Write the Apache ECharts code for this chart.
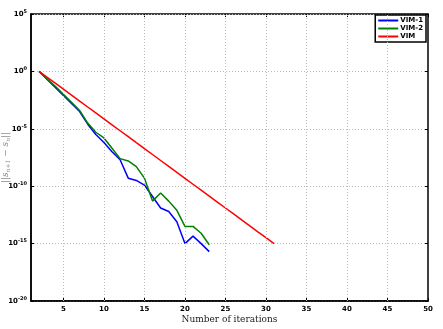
<!DOCTYPE html>
<html><head><meta charset="utf-8">
<script src="https://cdn.jsdelivr.net/npm/echarts@6/dist/echarts.min.js"></script>
<style>html,body{margin:0;padding:0;background:#fff}#c{width:443px;height:329px}</style>
</head><body><div id="c"></div>
<script>
// iteration numbers
const itersVIM1 = [2,3,4,5,6,7,8,9,10,11,12,13,14,15,16,17,18,19,20,21,22,23];
// log10 of ||s_{n+1}-s_n||
const logVIM1 = [0,-0.7,-1.4,-2.1,-2.8,-3.5,-4.6,-5.5,-6.2,-7.0,-7.7,-9.3,-9.5,-9.9,-10.9,-11.9,-12.2,-13.1,-15.0,-14.35,-15.0,-15.7];
const itersVIM2 = [2,3,4,5,6,7,8,9,10,11,12,13,14,15,16,17,18,19,20,21,22,23];
const logVIM2 = [0,-0.65,-1.3,-2.0,-2.7,-3.4,-4.5,-5.3,-5.8,-6.7,-7.6,-7.8,-8.3,-9.3,-11.3,-10.6,-11.3,-12.1,-13.5,-13.5,-14.1,-15.1];
const itersVIM = [2,3,4,5,6,7,8,9,10,11,12,13,14,15,16,17,18,19,20,21,22,23,24,25,26,27,28,29,30,31];
const logVIM = [0,-0.52,-1.03,-1.55,-2.07,-2.59,-3.1,-3.62,-4.14,-4.66,-5.17,-5.69,-6.21,-6.72,-7.24,-7.76,-8.28,-8.79,-9.31,-9.83,-10.34,-10.86,-11.38,-11.9,-12.41,-12.93,-13.45,-13.97,-14.48,-15.0];
const xTicks = [5,10,15,20,25,30,35,40,45,50];
const yTickExps = [-20,-15,-10,-5,0,5];

const zip = (a,b)=>a.map((v,i)=>[v,b[i]]);
const chart = echarts.init(document.getElementById('c'));
const lblFont = {fontFamily:'DejaVu Sans', fontSize:7, fontWeight:'bold', color:'#000'};
chart.setOption({
  animation:false,
  grid:{left:31,right:15,top:14,bottom:28,outerBoundsMode:'none',containLabel:false,show:true,borderColor:'#000',borderWidth:1.5},
  legend:{
    right:17, top:15, orient:'vertical', itemWidth:20, itemHeight:2, itemGap:1,
    padding:[2,3,2,3], borderColor:'#000', borderWidth:1.5, backgroundColor:'#fff',
    textStyle:{fontFamily:'DejaVu Sans',fontSize:7,fontWeight:'bold',color:'#000',padding:[0,0,0,-3]},
    icon:'rect',
    data:['VIM-1','VIM-2','VIM']
  },
  xAxis:[{
    type:'value', min:1, max:50,
    name:'Number of iterations', nameLocation:'middle', nameGap:14, nameMoveOverlap:false,
    nameTextStyle:{fontFamily:'DejaVu Serif',fontSize:9,color:'#222'},
    axisLine:{show:true,onZero:false,lineStyle:{color:'#000',width:1.5}},
    axisTick:{show:true,inside:true,length:3,customValues:xTicks,lineStyle:{color:'#000'}},
    axisLabel:{customValues:xTicks,margin:5,...lblFont},
    splitLine:{show:false}
  },{
    type:'value', min:1, max:50, position:'top',
    axisLine:{show:false,onZero:false},
    axisTick:{show:true,inside:true,length:3,customValues:xTicks,lineStyle:{color:'#000'}},
    axisLabel:{show:false},
    splitLine:{show:false}
  }],
  yAxis:[{
    type:'value', min:-20, max:5, interval:5,
    name:'||s{sub|n+1} − s{sub|n}||', nameLocation:'middle', nameGap:20, nameMoveOverlap:false,
    nameTextStyle:{fontFamily:'DejaVu Serif',fontStyle:'italic',fontSize:9,color:'#888',
      rich:{sub:{fontSize:6,verticalAlign:'bottom',fontStyle:'italic',color:'#888',padding:[4,0,0,0]}}},
    axisLine:{show:true,onZero:false,lineStyle:{color:'#000',width:1.5}},
    axisTick:{show:true,inside:true,length:3,lineStyle:{color:'#000'}},
    axisLabel:{margin:4,formatter:v=>'{b|10}{s|'+v+'}',
      rich:{b:{...lblFont},s:{...lblFont,fontSize:5,verticalAlign:'top',padding:[0,0,5,0]}}},
    splitLine:{show:true,lineStyle:{color:'#bbb',type:[1,2],width:1}}
  },{
    type:'value', min:-20, max:5, interval:5, position:'right',
    axisLine:{show:false,onZero:false},
    axisTick:{show:true,inside:true,length:3,lineStyle:{color:'#000'}},
    axisLabel:{show:false}, splitLine:{show:false}
  }],
  series:[
    {name:'grid',type:'line',data:[],silent:true,
     markLine:{silent:true,symbol:'none',label:{show:false},
       lineStyle:{color:'#bbb',type:[1,2],width:1},
       data:xTicks.filter(v=>v<50).map(v=>({xAxis:v}))}},
    {name:'VIM-1',type:'line',data:zip(itersVIM1,logVIM1),showSymbol:false,lineStyle:{color:'#0000ff',width:1.5},itemStyle:{color:'#0000ff'}},
    {name:'VIM-2',type:'line',data:zip(itersVIM2,logVIM2),showSymbol:false,lineStyle:{color:'#008000',width:1.5},itemStyle:{color:'#008000'}},
    {name:'VIM',type:'line',data:zip(itersVIM,logVIM),showSymbol:false,lineStyle:{color:'#ff0000',width:1.5},itemStyle:{color:'#ff0000'}}
  ]
});
</script></body></html>
